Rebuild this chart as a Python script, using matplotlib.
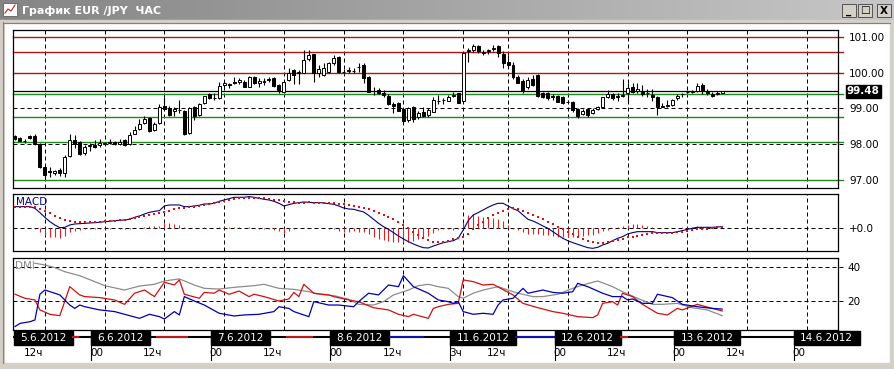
import matplotlib
matplotlib.use("Agg")
import matplotlib.pyplot as plt
import numpy as np
from matplotlib.patches import Rectangle

# ---------------- data ----------------
# hourly EUR/JPY bars, bar 0 = 5.6.2012 06:00 (weekend removed)
opens = [98.22, 98.17, 98.09, 98.23, 98.22, 98.01, 97.37, 97.25, 97.19, 97.28,
         97.19, 97.67, 98.12, 98.05, 97.75, 97.95, 97.98, 97.97, 98.02, 98.04,
         98.06, 98.02, 98.12, 98.00, 98.30, 98.42, 98.60, 98.72, 98.40, 98.60,
         99.07, 99.02, 98.93, 98.95, 98.94, 98.31, 99.03, 98.82, 99.16, 99.39,
         99.30, 99.28, 99.66, 99.67, 99.75, 99.73, 99.75, 99.61, 99.89, 99.72,
         99.77, 99.80, 99.84, 99.65, 99.47, 99.80, 100.07, 100.00, 100.00, 100.37,
         100.52, 100.00, 99.93, 100.03, 100.26, 100.45, 100.03, 100.05, 100.05, 100.15,
         100.21, 99.89, 99.50, 99.52, 99.42, 99.36, 99.12, 99.16, 98.98, 98.68,
         99.03, 98.75, 98.91, 98.82, 98.91, 99.20, 99.24, 99.22, 99.36, 99.42,
         99.22, 100.60, 100.62, 100.73, 100.56, 100.60, 100.66, 100.73, 100.52, 100.31,
         100.21, 99.89, 99.78, 99.59, 99.81, 99.93, 99.44, 99.42, 99.36, 99.35,
         99.33, 99.19, 99.19, 98.98, 98.85, 98.98, 98.86, 98.99, 99.05, 99.33,
         99.40, 99.33, 99.36, 99.44, 99.61, 99.50, 99.47, 99.42, 99.38, 99.31,
         99.05, 99.08, 99.10, 99.28, 99.40, 99.45, 99.45, 99.50, 99.66, 99.47,
         99.41, 99.40, 99.44]
highs = [98.25, 98.20, 98.15, 98.26, 98.28, 98.03, 97.40, 97.37, 97.28, 97.33,
         97.70, 98.30, 98.26, 98.08, 97.98, 98.04, 98.12, 98.14, 98.07, 98.14,
         98.10, 98.16, 98.14, 98.35, 98.51, 98.70, 98.79, 98.75, 98.62, 99.12,
         99.33, 99.06, 99.03, 99.24, 98.97, 99.04, 99.07, 99.14, 99.36, 99.42,
         99.44, 99.75, 99.75, 99.72, 99.87, 99.84, 99.79, 99.92, 99.92, 99.84,
         99.84, 99.89, 99.88, 99.68, 99.78, 100.12, 100.09, 100.07, 100.63, 100.63,
         100.52, 100.21, 100.26, 100.31, 100.49, 100.47, 100.09, 100.15, 100.12, 100.28,
         100.26, 99.91, 99.59, 99.56, 99.52, 99.39, 99.19, 99.19, 99.00, 99.05,
         99.07, 98.93, 99.05, 99.00, 99.33, 99.38, 99.28, 99.38, 99.47, 99.44,
         100.58, 100.68, 100.80, 100.77, 100.63, 100.65, 100.77, 100.77, 100.59, 100.49,
         100.31, 99.93, 99.81, 99.89, 99.93, 99.96, 99.47, 99.47, 99.40, 99.38,
         99.35, 99.24, 99.21, 99.00, 98.98, 99.00, 99.00, 99.07, 99.33, 99.52,
         99.44, 99.42, 99.81, 99.70, 99.70, 99.70, 99.66, 99.53, 99.53, 99.35,
         99.14, 99.24, 99.26, 99.40, 99.44, 99.50, 99.52, 99.70, 99.70, 99.53,
         99.47, 99.50, 99.50]
lows = [98.13, 98.09, 98.03, 98.14, 97.98, 97.35, 97.05, 97.10, 97.13, 97.12,
        97.10, 97.64, 97.89, 97.70, 97.70, 97.82, 97.90, 97.93, 97.98, 98.00,
        97.98, 97.98, 97.96, 97.97, 98.28, 98.40, 98.57, 98.35, 98.38, 98.56,
        98.95, 98.80, 98.79, 98.88, 98.26, 98.29, 98.68, 98.78, 99.13, 99.26,
        99.24, 99.26, 99.53, 99.56, 99.68, 99.68, 99.59, 99.59, 99.68, 99.59,
        99.65, 99.74, 99.61, 99.44, 99.45, 99.78, 99.68, 99.68, 99.98, 100.33,
        99.75, 99.89, 99.91, 100.00, 100.21, 100.00, 99.98, 100.00, 100.00, 100.03,
        99.70, 99.45, 99.38, 99.40, 99.33, 99.10, 98.86, 98.92, 98.56, 98.63,
        98.63, 98.70, 98.77, 98.75, 98.89, 99.12, 99.12, 99.20, 99.33, 99.14,
        99.18, 100.30, 100.58, 100.56, 100.49, 100.52, 100.60, 100.45, 100.12, 100.12,
        99.81, 99.70, 99.42, 99.53, 99.64, 99.33, 99.28, 99.24, 99.24, 99.17,
        99.12, 99.14, 98.91, 98.72, 98.82, 98.75, 98.85, 98.96, 99.02, 99.28,
        99.24, 99.22, 99.33, 99.14, 99.42, 99.42, 99.35, 99.33, 99.22, 98.82,
        99.03, 99.05, 99.08, 99.24, 99.33, 99.42, 99.42, 99.47, 99.40, 99.38,
        99.33, 99.38, 99.42]
closes = [98.15, 98.10, 98.08, 98.17, 98.02, 97.37, 97.14, 97.24, 97.26, 97.19,
          97.65, 98.12, 98.00, 97.72, 97.92, 97.98, 97.93, 98.04, 98.03, 98.07,
          98.02, 98.05, 97.98, 98.26, 98.40, 98.57, 98.70, 98.37, 98.56, 99.03,
          98.98, 98.82, 98.98, 98.96, 98.29, 99.00, 98.79, 99.12, 99.35, 99.28,
          99.28, 99.64, 99.70, 99.66, 99.70, 99.79, 99.60, 99.89, 99.70, 99.76,
          99.74, 99.82, 99.63, 99.52, 99.75, 99.98, 99.93, 100.03, 100.35, 100.49,
          99.98, 100.09, 100.12, 100.26, 100.40, 100.03, 100.02, 100.07, 100.04, 100.17,
          99.84, 99.47, 99.48, 99.42, 99.38, 99.12, 99.08, 98.94, 98.66, 99.00,
          98.70, 98.88, 98.79, 98.96, 99.24, 99.22, 99.23, 99.33, 99.38, 99.16,
          100.56, 100.63, 100.73, 100.59, 100.58, 100.62, 100.70, 100.54, 100.28, 100.21,
          99.89, 99.72, 99.52, 99.80, 99.66, 99.35, 99.33, 99.28, 99.33, 99.19,
          99.14, 99.17, 98.96, 98.79, 98.93, 98.82, 98.96, 99.03, 99.31, 99.40,
          99.28, 99.36, 99.38, 99.56, 99.47, 99.53, 99.40, 99.44, 99.33, 99.03,
          99.08, 99.10, 99.24, 99.36, 99.41, 99.46, 99.48, 99.63, 99.52, 99.44,
          99.35, 99.42, 99.48]

resistance_levels = [101.0, 100.57, 100.0]
support_levels = [99.40, 98.75, 98.05, 97.0]
last_price = 99.48
price_ticks = [97, 98, 99, 100, 101]

macd_line = [0.325, 0.325, 0.325, 0.325, 0.30, 0.235, 0.165, 0.10, 0.05, 0.01,
             0.015, 0.05, 0.065, 0.07, 0.075, 0.08, 0.085, 0.09, 0.10, 0.105,
             0.115, 0.12, 0.125, 0.135, 0.165, 0.185, 0.215, 0.24, 0.255, 0.265,
             0.335, 0.35, 0.35, 0.35, 0.325, 0.325, 0.335, 0.345, 0.365, 0.365,
             0.375, 0.405, 0.425, 0.445, 0.465, 0.465, 0.465, 0.475, 0.465, 0.45,
             0.435, 0.425, 0.405, 0.375, 0.335, 0.355, 0.375, 0.385, 0.395, 0.39,
             0.385, 0.385, 0.38, 0.37, 0.36, 0.335, 0.305, 0.29, 0.285, 0.265,
             0.245, 0.195, 0.135, 0.075, 0.025, -0.015, -0.065, -0.115, -0.16, -0.20,
             -0.235, -0.265, -0.29, -0.295, -0.265, -0.24, -0.215, -0.20, -0.185, -0.15,
             -0.025, 0.115, 0.20, 0.235, 0.275, 0.315, 0.35, 0.375, 0.375, 0.335,
             0.295, 0.265, 0.20, 0.135, 0.11, 0.075, 0.035, 0.0, -0.05, -0.10,
             -0.15, -0.185, -0.215, -0.24, -0.265, -0.29, -0.30, -0.285, -0.25, -0.225,
             -0.185, -0.15, -0.125, -0.085, -0.065, -0.05, -0.05, -0.05, -0.05, -0.065,
             -0.065, -0.065, -0.065, -0.05, -0.035, -0.015, 0.0, 0.015, 0.015, 0.015,
             0.015, 0.02, 0.025]
macd_signal = [0.325, 0.325, 0.325, 0.325, 0.315, 0.285, 0.26, 0.225, 0.185, 0.15,
               0.125, 0.11, 0.10, 0.09, 0.09, 0.09, 0.095, 0.10, 0.105, 0.11,
               0.115, 0.125, 0.13, 0.14, 0.155, 0.175, 0.19, 0.205, 0.22, 0.235,
               0.25, 0.265, 0.285, 0.30, 0.31, 0.315, 0.325, 0.335, 0.345, 0.36,
               0.375, 0.39, 0.41, 0.425, 0.44, 0.45, 0.455, 0.46, 0.46, 0.455,
               0.45, 0.44, 0.43, 0.42, 0.41, 0.40, 0.39, 0.385, 0.385, 0.39,
               0.385, 0.385, 0.38, 0.375, 0.375, 0.37, 0.36, 0.345, 0.33, 0.315,
               0.30, 0.285, 0.26, 0.235, 0.205, 0.175, 0.135, 0.095, 0.05, 0.0,
               -0.05, -0.10, -0.14, -0.175, -0.20, -0.21, -0.205, -0.19, -0.165, -0.145,
               -0.125, -0.085, -0.015, 0.05, 0.10, 0.15, 0.20, 0.235, 0.265, 0.29,
               0.30, 0.285, 0.255, 0.225, 0.195, 0.165, 0.135, 0.10, 0.065, 0.025,
               -0.015, -0.05, -0.085, -0.125, -0.155, -0.185, -0.205, -0.215, -0.215, -0.205,
               -0.19, -0.175, -0.16, -0.135, -0.125, -0.11, -0.095, -0.085, -0.075, -0.075,
               -0.075, -0.075, -0.07, -0.06, -0.05, -0.035, -0.025, -0.015, -0.01, -0.005,
               0.005, 0.015, 0.02]

adx_bars = [4, 6, 8, 10, 13, 16, 18, 22, 25, 28, 30, 33, 36, 38, 41, 44, 48, 50, 53, 56,
            59, 61, 64, 67, 69, 72, 74, 76, 79, 81, 83, 85, 87, 89, 90, 92, 94, 97, 99, 101,
            104, 106, 109, 112, 114, 117, 120, 122, 125, 128, 130, 133, 136, 139, 142]
adx_vals = [42.4, 41.4, 39.8, 37.4, 35.0, 31.5, 29.1, 26.5, 28.9, 29.9, 31.9, 33.1, 29.5, 27.5,
            27.1, 28.1, 29.1, 29.9, 27.5, 26.9, 25.5, 24.0, 23.2, 21.0, 18.0, 17.6, 19.6, 23.6,
            26.5, 29.1, 29.9, 28.5, 27.5, 22.6, 21.6, 24.6, 26.5, 28.5, 26.5, 24.6, 22.6, 22.6,
            24.0, 27.5, 29.5, 31.9, 28.5, 25.5, 21.6, 18.0, 18.0, 18.6, 16.0, 14.7, 11.3]

minus_di_bars = [0, 1, 3, 4, 5, 6, 8, 9, 10, 11, 12, 13, 14, 17, 20, 22, 25, 27, 29, 30,
                 32, 33, 34, 36, 38, 41, 44, 46, 49, 52, 53, 55, 56, 59, 60, 63, 65, 68, 69, 71,
                 73, 75, 77, 78, 80, 83, 85, 87, 88, 89, 90, 92, 94, 96, 97, 98, 100, 102, 103, 106,
                 108, 110, 112, 113, 115, 118, 120, 122, 123, 124, 126, 128, 129, 132, 134, 137, 140, 142]
minus_di_vals = [4.8, 6.7, 7.7, 8.7, 24.0, 26.5, 24.6, 23.6, 20.6, 17.6, 15.6, 17.6, 16.6, 14.7,
                 13.7, 12.1, 9.7, 12.1, 10.7, 9.3, 13.7, 11.7, 22.6, 20.0, 17.6, 12.7, 11.1, 11.7,
                 12.1, 13.7, 16.6, 15.6, 13.7, 10.7, 19.6, 17.6, 17.6, 16.6, 19.6, 24.6, 23.6, 29.5,
                 28.5, 35.0, 28.5, 24.6, 20.6, 19.6, 18.6, 19.6, 13.7, 12.1, 12.7, 12.1, 17.6, 20.6,
                 21.6, 27.5, 24.6, 26.5, 25.1, 24.6, 25.5, 30.5, 28.5, 24.6, 22.6, 22.6, 20.6, 21.2,
                 18.6, 18.6, 24.0, 22.0, 18.0, 16.6, 15.6, 15.2]

plus_di_bars = [0, 2, 4, 5, 7, 9, 11, 13, 14, 17, 20, 22, 24, 26, 28, 30, 32, 33, 34, 37,
                38, 40, 41, 43, 45, 47, 48, 50, 53, 55, 56, 57, 58, 60, 63, 64, 67, 69, 72, 75,
                77, 79, 80, 83, 84, 85, 87, 89, 90, 92, 94, 96, 100, 102, 105, 108, 110, 113, 116, 117,
                118, 120, 121, 122, 124, 126, 129, 131, 133, 134, 137, 140, 142]
plus_di_vals = [24.0, 21.6, 20.6, 14.7, 12.1, 11.3, 28.5, 23.6, 22.6, 22.0, 20.6, 18.0, 24.6,
                26.5, 22.6, 31.1, 29.5, 32.5, 24.0, 21.6, 25.1, 24.6, 26.5, 24.0, 25.9, 22.6,
                24.0, 22.6, 20.0, 21.2, 25.1, 22.6, 29.9, 24.6, 23.6, 22.6, 20.6, 19.6, 16.0,
                14.7, 12.1, 10.7, 12.1, 9.7, 15.6, 16.6, 18.0, 18.6, 32.5, 31.5, 29.5, 29.9,
                23.6, 18.6, 16.0, 13.7, 12.7, 10.7, 10.1, 11.7, 18.6, 19.6, 17.6, 24.6, 22.6,
                18.0, 12.7, 11.7, 15.6, 14.7, 18.0, 15.6, 14.1]

grid_bars = [6, 18, 30, 42, 54, 66, 78, 90, 99, 111, 123, 135, 147, 159]
hour_labels = ["12ч", "00", "12ч", "00", "12ч", "00", "12ч", "3ч", "12ч", "00", "12ч", "00", "12ч", "00"]
day_labels = ["5.6.2012", "6.6.2012", "7.6.2012", "8.6.2012", "11.6.2012", "12.6.2012", "13.6.2012", "14.6.2012"]
day_start_bars = [-6, 18, 42, 66, 90, 111, 135, 159]

# ---------------- layout helpers (pixel frame of the screenshot) ----------------
W, H = 895, 369
X0, STEP = 15.0, 4.98   # pixel of bar 0, pixels per bar


def rect(x0, y0, x1, y1):
    return [x0 / W, 1 - y1 / H, (x1 - x0) / W, (y1 - y0) / H]


def bars(px):
    return (px - X0) / STEP


DASH = (0, (4, 3))
RED_LVL = "#b01818"
GREEN_LVL = "#1a8a1a"

fig = plt.figure(figsize=(W / 100, H / 100), dpi=100)
fig.patch.set_facecolor("white")

# window chrome
bg = fig.add_axes([0, 0, 1, 1], zorder=-10)
grad = np.linspace(0, 1, 256)[None, :, None]
c0, c1 = np.array([0.52, 0.52, 0.52]), np.array([0.78, 0.78, 0.78])
bg.imshow(c0 + (c1 - c0) * grad, extent=(0, W, 20, 0), aspect="auto")
bg.add_patch(Rectangle((0, 20), W, 3, color="#d4d0c8"))
bg.add_patch(Rectangle((0, 20), 4, H, color="#d4d0c8"))
bg.add_patch(Rectangle((W - 5, 20), 5, H, color="#d4d0c8"))
bg.add_patch(Rectangle((0, H - 6), W, 6, color="#d4d0c8"))
bg.plot([4, W - 5], [22.5, 22.5], color="#808080", lw=0.8)
bg.plot([3.5, 3.5], [22, H - 6], color="#808080", lw=0.8)
bg.add_patch(Rectangle((3, 3), 14, 13, fc="white", ec="#606060", lw=0.6))
bg.plot([5, 8, 11, 15], [13, 9, 11, 5], color="#c02020", lw=0.8)
bg.text(22, 10.5, "График EUR /JPY  ЧАС", color="white", fontsize=8, fontweight="bold", va="center")
for bx, glyph in [(842, "_"), (858, "□"), (877, "X")]:
    bg.add_patch(Rectangle((bx, 4), 14, 13, fc="#d4d0c8", ec="#404040", lw=0.6))
    bg.text(bx + 7, 10.5, glyph, fontsize=7.5, fontweight="bold", ha="center", va="center")
bg.set_xlim(0, W)
bg.set_ylim(H, 0)
bg.axis("off")

idx = np.arange(len(closes))
o, h, l, c = map(np.array, (opens, highs, lows, closes))

# ---------------- price panel ----------------
ax = fig.add_axes(rect(13, 30, 838, 188))
ax.set_xlim(bars(13), bars(838))
ax.set_ylim(96.78, 101.19)
for g in grid_bars:
    ax.axvline(g, color="black", lw=0.72, ls=DASH, zorder=1)
for p in price_ticks:
    ax.axhline(p, xmax=1.006, color="black", lw=0.72, ls=DASH, zorder=1, clip_on=False)
for p in resistance_levels:
    ax.axhline(p, xmax=1.006, color=RED_LVL, lw=1.0, zorder=2, clip_on=False)
for p in support_levels:
    ax.axhline(p, xmax=1.006, color=GREEN_LVL, lw=1.0, zorder=2, clip_on=False)
ax.axhline(last_price, color="black", lw=0.9, zorder=2)

ax.vlines(idx, l, h, color="black", lw=0.8, zorder=3)
up = c >= o
ax.bar(idx, np.abs(c - o), bottom=np.minimum(o, c), width=0.6,
       color=np.where(up, "white", "black"), edgecolor="black", linewidth=0.7, zorder=4)

ax.yaxis.tick_right()
ax.set_yticks(price_ticks)
ax.set_yticklabels([f"{p:.2f}" for p in price_ticks])
ax.tick_params(axis="y", length=0, pad=8, labelsize=7.5)
ax.set_xticks([])
ax.text(1 + 9 / 825, last_price, f"{last_price:.2f}", transform=ax.get_yaxis_transform(),
        color="white", fontsize=7.5, fontweight="bold", va="center", ha="left",
        bbox=dict(boxstyle="square,pad=0.12", fc="black", ec="black"))

# ---------------- MACD panel ----------------
axm = fig.add_axes(rect(13, 194.3, 838, 251))
axm.set_xlim(bars(13), bars(838))
axm.set_ylim(-0.34, 0.51)
for g in grid_bars:
    axm.axvline(g, color="black", lw=0.72, ls=DASH, zorder=1)
axm.axhline(0, xmax=1.006, color="black", lw=0.72, ls=DASH, zorder=1, clip_on=False)
hist = np.array(macd_line) - np.array(macd_signal)
axm.vlines(idx, 0, hist, color="#e02020", lw=0.8, zorder=2)
axm.plot(idx, macd_line, color="#000080", lw=0.8, zorder=3)
axm.scatter(idx, macd_signal, marker="s", s=3.2, color="#e01010", linewidths=0, zorder=4)
axm.text(0.004, 0.96, "MACD", transform=axm.transAxes, color="#000080", fontsize=7.5, va="top")
axm.yaxis.tick_right()
axm.set_yticks([0])
axm.set_yticklabels(["+0.0"])
axm.tick_params(axis="y", length=0, pad=8, labelsize=7.5)
axm.set_xticks([])

# ---------------- DMI panel ----------------
axd = fig.add_axes(rect(13, 257.7, 838, 330))
axd.set_xlim(bars(13), bars(838))
axd.set_ylim(2.77, 45.7)
for g in grid_bars:
    axd.axvline(g, color="black", lw=0.72, ls=DASH, zorder=1)
for v in (20, 40):
    axd.axhline(v, xmax=1.006, color="black", lw=0.72, ls=DASH, zorder=1, clip_on=False)
axd.plot(adx_bars, adx_vals, color="#8c8c8c", lw=0.9, zorder=2)
axd.plot(plus_di_bars, plus_di_vals, color="#d01010", lw=0.9, zorder=3)
axd.plot(minus_di_bars, minus_di_vals, color="#0000b0", lw=0.9, zorder=3)
axd.text(0.003, 0.96, "DMI", transform=axd.transAxes, color="#8c8c8c", fontsize=7.5, va="top")
axd.yaxis.tick_right()
axd.set_yticks([20, 40])
axd.tick_params(axis="y", length=0, pad=7, labelsize=7.5)
axd.set_xticks([])

for a in (ax, axm, axd):
    for s in a.spines.values():
        s.set_color("black")
        s.set_linewidth(0.9)

# ---------------- time axis ----------------
axt = fig.add_axes(rect(13, 330, 895, 363))
axt.set_xlim(bars(13), bars(895))
axt.set_ylim(363, 330)
axt.axis("off")
last_box_end = None
boxes = []
for lbl, start in zip(day_labels, day_start_bars):
    sep = max(start - 2.65, bars(14))
    width = 7.33 * len(lbl) / STEP
    boxes.append((lbl, sep, width))
    last_box_end = sep + width
axt.plot([bars(13), last_box_end], [336.8, 336.8], color="black", lw=1.5)
for x0, x1, col in [(bars(73), bars(78), "#c01818"), (bars(157), bars(187), "#c01818"),
                    (bars(287), bars(312), "#c01818"), (bars(390), bars(423), "#1010b0"),
                    (bars(516), bars(555), "#1010b0"), (bars(621), bars(627), "#c01818")]:
    axt.plot([x0, x1], [336.8, 336.8], color=col, lw=1.5)
for k, (lbl, sep, width) in enumerate(boxes):
    if k > 0:
        axt.plot([sep, sep], [331, 360], color="black", lw=0.8)
    axt.add_patch(Rectangle((sep, 331), width, 14, fc="black", ec="black"))
    axt.text(sep + width / 2, 338.3, lbl, color="white", fontsize=7.5, ha="center", va="center")
for g, lbl in zip(grid_bars, hour_labels):
    axt.text(g - 0.35, 353, lbl, fontsize=7.5, ha="right", va="center", color="black")

fig.savefig("out.png", dpi=100)
